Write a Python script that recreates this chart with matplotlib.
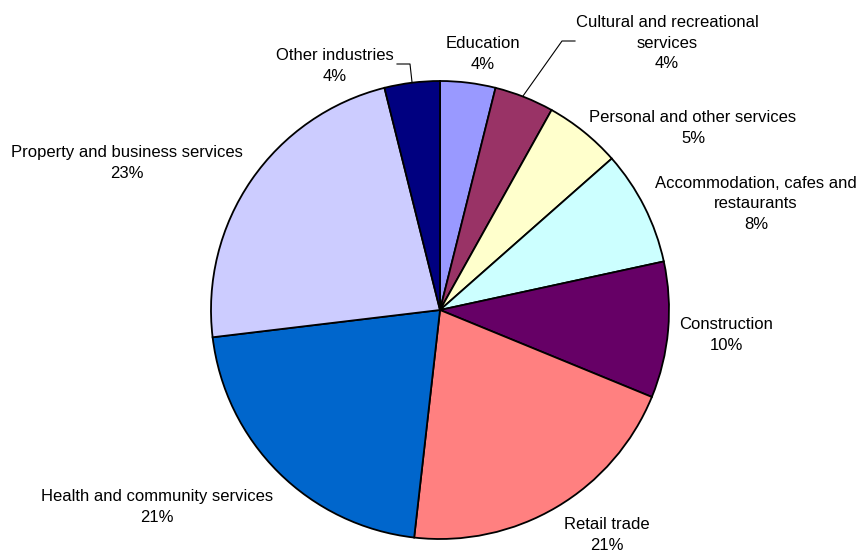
import matplotlib
matplotlib.use("Agg")
import matplotlib.pyplot as plt

plt.rcParams['font.family'] = ['Liberation Sans', 'DejaVu Sans']

industries = [
    'Education',
    'Cultural and recreational\nservices',
    'Personal and other services',
    'Accommodation, cafes and\nrestaurants',
    'Construction',
    'Retail trade',
    'Health and community services',
    'Property and business services',
    'Other industries',
]
shares = [3.9, 4.2, 5.4, 8.1, 9.6, 20.6, 21.3, 23.0, 3.9]
colours = ['#9999FF', '#993366', '#FFFFCC', '#CCFFFF', '#660066',
           '#FF8080', '#0066CC', '#CCCCFF', '#000080']

W, H = 859, 554
# label centres, measured from the top-left of the canvas
label_xy = [(483, 54), (667, 43), (693, 128), (756, 204), (726, 335),
            (607, 535), (157, 507), (127, 163), (335, 66)]


def main():
    fig = plt.figure(figsize=(W / 100, H / 100), dpi=100)
    ax = fig.add_axes([0, 0, 1, 1])

    ax.pie(shares, colors=colours, startangle=90, counterclock=False,
           center=(440, H - 310), radius=229, frame=True,
           wedgeprops=dict(edgecolor='black', linewidth=1.3))
    ax.set_xlim(0, W)
    ax.set_ylim(0, H)
    ax.set_aspect('equal')
    ax.axis('off')

    total = sum(shares)
    for name, val, (x, y) in zip(industries, shares, label_xy):
        ax.text(x, H - y, '%s\n%.0f%%' % (name, 100 * val / total),
                ha='center', va='center', fontsize=12, linespacing=1.48,
                color='black')

    # leader lines for the two small slices near the top
    ax.plot([523, 562, 575], [H - 96, H - 41, H - 41], color='black', lw=0.8)
    ax.plot([412, 410, 397], [H - 82, H - 64, H - 64], color='black', lw=0.8)

    fig.savefig('out.png', dpi=100)


if __name__ == "__main__":
    main()
